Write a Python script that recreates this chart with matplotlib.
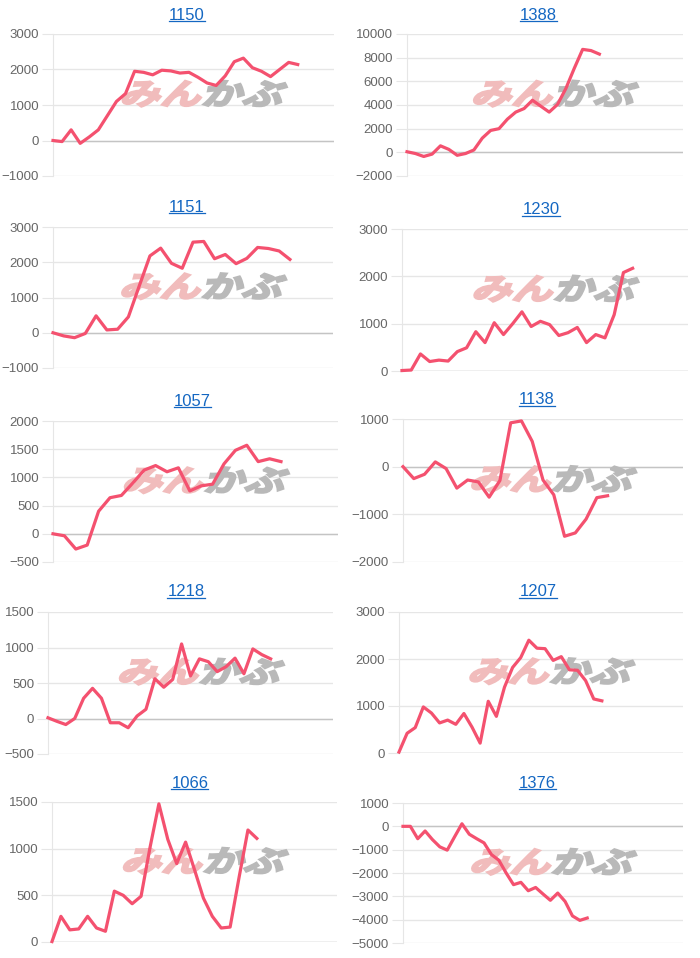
import numpy as np
import matplotlib
matplotlib.use("Agg")
import matplotlib.pyplot as plt
from matplotlib.textpath import TextPath
from matplotlib.patches import PathPatch
from matplotlib.font_manager import FontProperties
from matplotlib.transforms import Affine2D, IdentityTransform
from matplotlib.lines import Line2D

plt.rcParams['font.family'] = ['Liberation Sans', 'DejaVu Sans']

# ---- data ----
codes = ["1150", "1388", "1151", "1230", "1057", "1138", "1218", "1207", "1066", "1376"]

s1150 = [0, -30, 300, -80, 100, 300, 700, 1100, 1320, 1950, 1920, 1850, 1980, 1960,
         1900, 1920, 1780, 1620, 1550, 1820, 2220, 2320, 2050, 1950, 1800, 2000, 2200, 2140]
s1388 = [50, -100, -350, -150, 550, 250, -250, -100, 200, 1200, 1850, 2000, 2800, 3400,
         3700, 4400, 3900, 3400, 4050, 5400, 7100, 8700, 8600, 8300]
s1151 = [0, -90, -140, -20, 480, 80, 100, 450, 1320, 2180, 2400, 1970, 1830, 2570, 2590,
         2100, 2220, 1960, 2110, 2420, 2390, 2320, 2080]
s1230 = [10, 20, 360, 200, 230, 210, 410, 490, 830, 600, 1020, 770, 1000, 1250, 940, 1050,
         980, 750, 810, 920, 600, 770, 700, 1190, 2080, 2170]
s1057 = [0, -35, -270, -200, 400, 640, 680, 900, 1130, 1210, 1100, 1170, 760, 850, 880,
         1240, 1480, 1570, 1280, 1330, 1280]
s1138 = [0, -250, -160, 100, -40, -450, -280, -320, -640, -290, 920, 960, 530, -280, -590,
         -1460, -1390, -1100, -650, -610]
s1218 = [10, -40, -85, 0, 285, 425, 285, -60, -60, -130, 35, 130, 560, 440, 550, 1050, 600,
         840, 800, 660, 730, 850, 630, 980, 900, 840]
s1207 = [20, 420, 540, 980, 850, 640, 700, 610, 840, 550, 210, 1100, 780, 1400, 1820, 2030,
         2400, 2230, 2220, 1970, 2050, 1770, 1760, 1540, 1150, 1110]
s1066 = [5, 275, 130, 140, 275, 150, 115, 545, 500, 410, 490, 1010, 1480, 1100, 840, 1070,
         775, 470, 275, 150, 160, 690, 1200, 1110]
s1376 = [0, 0, -530, -200, -570, -880, -1020, -450, 110, -340, -530, -710, -1210, -1450,
         -2000, -2500, -2400, -2760, -2620, -2900, -3170, -2860, -3220, -3840, -4030, -3930]
series = [s1150, s1388, s1151, s1230, s1057, s1138, s1218, s1207, s1066, s1376]

# y axis range and tick step per chart
y_lo = [-1000, -2000, -1000, 0, -500, -2000, -500, 0, 0, -5000]
y_hi = [3000, 10000, 3000, 3000, 2000, 1000, 1500, 3000, 1500, 1000]
y_step = [1000, 2000, 1000, 1000, 500, 1000, 500, 1000, 500, 1000]
# number of x slots on each (unlabelled) category axis
x_slots = [31, 33, 26, 31, 25, 26, 32, 35, 32, 38]

# ---- layout (pixels, top-left origin) ----
W, H = 700, 958
rects = [(53, 34, 334, 176), (407, 34, 683, 176),
         (53, 227, 333, 368), (402, 229, 688, 371),
         (53, 421, 338, 562), (403, 419, 683, 562),
         (48, 612, 333, 754), (399, 612, 683, 753),
         (52, 802, 337, 942), (403, 803, 683, 943)]
title_xy = [(187, 15), (538, 15), (187, 207), (541, 210), (192, 401),
            (537, 400), (186, 592), (538, 592), (190, 783), (537, 783)]

LINE = '#f4516f'
BLUE = '#1467c2'
GRID = '#e6e6e6'
ZERO = '#c4c4c4'
TICK = '#666666'

fig = plt.figure(figsize=(W / 100, H / 100), dpi=100)
wm_font = FontProperties(family='Noto Sans CJK JP', weight='bold')


def watermark(ax):
    """pink/grey slanted logo behind the line"""
    p1 = TextPath((0, 0), "みん", size=1, prop=wm_font)
    e1 = p1.get_extents()
    p2 = TextPath((e1.x1 + 0.05, 0), "かぶ", size=1, prop=wm_font)
    e2 = p2.get_extents()
    x0, x1 = e1.x0, e2.x1
    y0, y1 = min(e1.y0, e2.y0), max(e1.y1, e2.y1)
    cx, cy = ax.transAxes.transform((0.54, 0.58))
    tr = (Affine2D().translate(-(x0 + x1) / 2, -(y0 + y1) / 2)
          .scale(160 / (x1 - x0), 26 / (y1 - y0))
          .skew_deg(18, 0).translate(cx, cy))
    for p, c in ((p1, '#f1bcbc'), (p2, '#b9b9b9')):
        ax.add_artist(PathPatch(p, transform=tr, facecolor=c, edgecolor=c, lw=1.6,
                                joinstyle='miter', zorder=1, clip_on=False))


titles = []
for i, code in enumerate(codes):
    l, t, r, b = rects[i]
    ax = fig.add_axes([l / W, 1 - b / H, (r - l) / W, (b - t) / H])
    ax.set_axisbelow(True)
    vals = series[i]
    ax.set_xlim(0, x_slots[i])
    ax.set_ylim(y_lo[i], y_hi[i])
    ax.set_yticks(np.arange(y_lo[i], y_hi[i] + 1, y_step[i]))
    ax.set_xticks([])
    ax.grid(axis='y', color=GRID, lw=1)
    ax.axhline(0, color=ZERO, lw=1, zorder=0.6)
    for side in ('top', 'right', 'bottom'):
        ax.spines[side].set_visible(False)
    ax.spines['left'].set_color(GRID)
    ax.tick_params(axis='y', length=8, color=GRID, labelcolor=TICK,
                   labelsize=9.5, pad=2)
    watermark(ax)
    ax.plot(range(len(vals)), vals, color=LINE, lw=2.3, clip_on=False,
            solid_joinstyle='round', zorder=3)
    tx, ty = title_xy[i]
    titles.append(fig.text(tx / W, 1 - ty / H, code, ha='center', va='center',
                           color=BLUE, fontsize=12))

# underline the titles (link style)
fig.canvas.draw()
renderer = fig.canvas.get_renderer()
for t in titles:
    bb = t.get_window_extent(renderer)
    y = bb.y0 + 1.5
    fig.add_artist(Line2D([bb.x0, bb.x1], [y, y], transform=IdentityTransform(),
                          color=BLUE, lw=0.9))

fig.savefig("out.png", dpi=100)
